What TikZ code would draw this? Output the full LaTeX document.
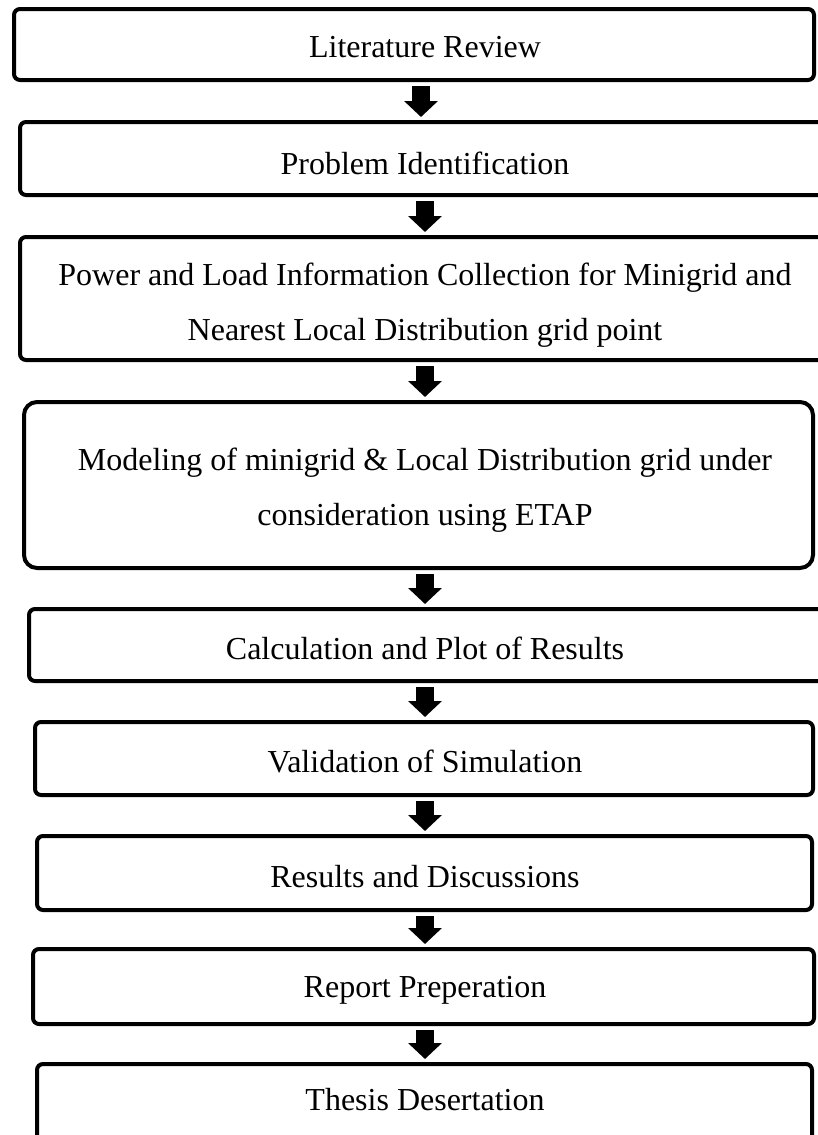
\documentclass[tikz,border=0pt]{standalone}
\usepackage{fontspec}
\setmainfont{Liberation Serif}
\usetikzlibrary{arrows.meta}
\begin{document}
\begin{tikzpicture}[x=1pt,y=-1pt,
  stepbox/.style={draw=black, line width=4pt, rounded corners=6pt, inner sep=0pt, fill=none},
  steptext/.style={font=\fontsize{32}{55}\selectfont, align=center, anchor=base, inner sep=0pt},
  barrow/.style={line width=18pt, -{Triangle[width=33pt,length=16pt]}, shorten <=4pt, shorten >=3pt}]
\useasboundingbox[fill=white] (0,0) rectangle (817,1135);
% boxes: outer edges (l,t)-(r,b)
\newcommand{\mybox}[6][6pt]{%
  \node[stepbox, rounded corners=#1, minimum width={#4-#2-4pt}, minimum height={#5-#3-4pt}] (#6) at ({(#2+#4)/2},{(#3+#5)/2}) {};}
\mybox{12}{7}{816}{82}{b1}
\mybox{18}{120}{880}{197}{b2}
\mybox{18}{235}{880}{362}{b3}
\mybox[13pt]{22}{400}{815}{570}{b4}
\mybox{27}{607}{880}{683}{b5}
\mybox{33}{720}{815}{797}{b6}
\mybox{35}{834}{814}{912}{b7}
\mybox{31}{947}{816}{1026}{b8}
\mybox{35}{1062}{814}{1150}{b9}
% texts (base anchor = baseline of last line)
\node[steptext] (t1) at (425,57) {Literature Review};
\node[steptext] (t2) at (425,174) {Problem Identification};
\node[steptext] (t3) at (425,340) {Power and Load Information Collection for Minigrid and\\Nearest Local Distribution grid point};
\node[steptext] (t4) at (425,525) {Modeling of minigrid \& Local Distribution grid under\\consideration using ETAP};
\node[steptext] (t5) at (425,659) {Calculation and Plot of Results};
\node[steptext] (t6) at (425,772) {Validation of Simulation};
\node[steptext] (t7) at (425,887) {Results and Discussions};
\node[steptext] (t8) at (425,997) {Report Preperation};
\node[steptext] (t9) at (425,1110) {Thesis Desertation};
% arrows
\coordinate (ax1) at (421,0);
\coordinate (ax) at (425,0);
\draw[barrow] (b1.south -| ax1) -- (b2.north -| ax1);
\draw[barrow] (b2.south -| ax) -- (b3.north -| ax);
\draw[barrow] (b3.south -| ax) -- (b4.north -| ax);
\draw[barrow] (b4.south -| ax) -- (b5.north -| ax);
\draw[barrow] (b5.south -| ax) -- (b6.north -| ax);
\draw[barrow] (b6.south -| ax) -- (b7.north -| ax);
\draw[barrow] (b7.south -| ax) -- (b8.north -| ax);
\draw[barrow] (b8.south -| ax) -- (b9.north -| ax);
\end{tikzpicture}
\end{document}
